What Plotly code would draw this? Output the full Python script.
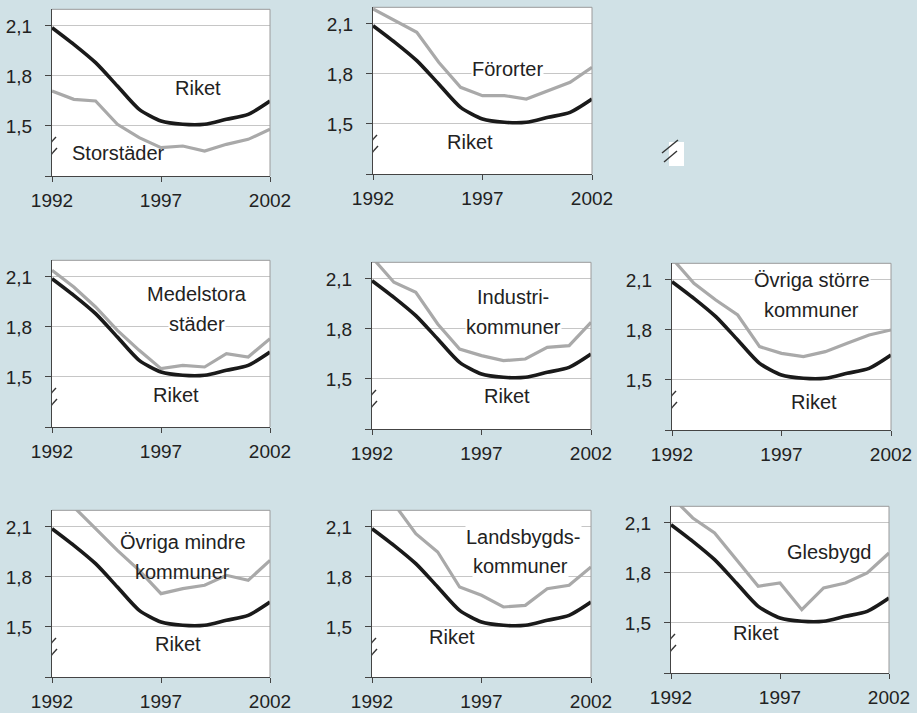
import plotly.graph_objects as go

# total fertility rate, 1992-2002
years = list(range(1992, 2003))
riket = [2.09, 1.99, 1.88, 1.74, 1.60, 1.53, 1.51, 1.51, 1.54, 1.57, 1.65]
storstader = [1.71, 1.66, 1.65, 1.51, 1.43, 1.37, 1.38, 1.35, 1.39, 1.42, 1.48]
fororter = [2.19, 2.12, 2.05, 1.87, 1.72, 1.67, 1.67, 1.65, 1.70, 1.75, 1.84]
medelstora = [2.14, 2.04, 1.92, 1.78, 1.66, 1.55, 1.57, 1.56, 1.64, 1.62, 1.73]
industri = [2.23, 2.08, 2.02, 1.83, 1.68, 1.64, 1.61, 1.62, 1.69, 1.70, 1.84]
ovriga_storre = [2.23, 2.08, 1.98, 1.89, 1.70, 1.66, 1.64, 1.67, 1.72, 1.77, 1.80]
ovriga_mindre = [2.36, 2.22, 2.09, 1.96, 1.84, 1.70, 1.73, 1.75, 1.81, 1.78, 1.90]
landsbygd = [2.45, 2.24, 2.06, 1.95, 1.74, 1.69, 1.62, 1.63, 1.73, 1.75, 1.86]
glesbygd = [2.26, 2.13, 2.04, 1.88, 1.72, 1.74, 1.58, 1.71, 1.74, 1.80, 1.92]

x_ticks = [1992, 1997, 2002]
y_ticks = [1.2, 1.5, 1.8, 2.1]
y_ticktext = ["", "1,5", "1,8", "2,1"]

W, H = 917, 713
BG = "#d0e1e6"
FONT = "Liberation Sans, Arial, sans-serif"


def px(x):
    return x / W


def py(y):
    return 1 - y / H


# gray series, left px, right px, y px of the 2,1 gridline, labels (text, x, y, white box)
panels = [
    (storstader, 52, 270, 26, [("Riket", 1998.7, 1.73, False),
                               ("Storstäder", 1995.07, 1.34, False)]),
    (fororter, 373, 592, 24, [("Förorter", 1998.12, 1.83, True),
                              ("Riket", 1996.43, 1.39, False)]),
    (medelstora, 52, 270, 277, [("Medelstora", 1998.65, 2.0, True),
                                ("städer", 1998.65, 1.82, True),
                                ("Riket", 1997.69, 1.39, False)]),
    (industri, 372, 591, 279, [("Industri-", 1998.44, 1.99, True),
                               ("kommuner", 1998.44, 1.81, True),
                               ("Riket", 1998.16, 1.40, False)]),
    (ovriga_storre, 672, 891, 280, [("Övriga större", 1998.39, 2.10, True),
                                    ("kommuner", 1998.39, 1.92, True),
                                    ("Riket", 1998.48, 1.37, False)]),
    (ovriga_mindre, 52, 270, 527, [("Övriga mindre", 1998.0, 2.01, False),
                                   ("kommuner", 1998.0, 1.83, False),
                                   ("Riket", 1997.78, 1.40, False)]),
    (landsbygd, 372, 591, 527, [("Landsbygds-", 1998.94, 2.04, True),
                                ("kommuner", 1998.76, 1.866, True),
                                ("Riket", 1995.65, 1.44, False)]),
    (glesbygd, 671, 889, 523, [("Glesbygd", 1999.25, 1.926, True),
                               ("Riket", 1995.9, 1.44, False)]),
]

fig = go.Figure()
layout = {}
shapes = []
annotations = []

for i, (gray, xl, xr, g21, labels) in enumerate(panels, start=1):
    sfx = "" if i == 1 else str(i)
    xa, ya = "x" + sfx, "y" + sfx
    top = g21 - 16.7
    bottom = g21 + 150

    fig.add_trace(go.Scatter(x=years, y=gray, mode="lines", xaxis=xa, yaxis=ya,
                             line=dict(color="#a9a9a9", width=3.2), showlegend=False))
    fig.add_trace(go.Scatter(x=years, y=riket, mode="lines", xaxis=xa, yaxis=ya,
                             line=dict(color="#1a1a1a", width=3.6, shape="spline", smoothing=0.7),
                             showlegend=False))

    layout["xaxis" + sfx] = dict(
        domain=[px(xl), px(xr)], anchor=ya, range=[1992, 2002], automargin=False,
        tickvals=x_ticks, ticks="outside", ticklen=5, tickcolor="#444",
        showline=True, linecolor="#444", linewidth=1.3, showgrid=False, zeroline=False,
        tickfont=dict(family=FONT, size=19, color="#222"), ticklabelstandoff=2,
    )
    layout["yaxis" + sfx] = dict(
        domain=[py(bottom), py(top)], anchor=xa, range=[1.2, 2.2], automargin=False,
        tickvals=y_ticks, ticktext=y_ticktext, ticks="outside", ticklen=6, tickcolor="#444",
        showline=True, linecolor="#444", linewidth=1.3, showgrid=True,
        gridcolor="#c6c6c6", gridwidth=1, zeroline=False,
        tickfont=dict(family=FONT, size=19, color="#222"), ticklabelstandoff=9,
    )

    # top and right border of the plot box
    shapes.append(dict(type="line", xref=xa + " domain", yref=ya + " domain",
                       x0=0, x1=1, y0=1, y1=1, line=dict(color="#9a9a9a", width=1)))
    shapes.append(dict(type="line", xref=xa + " domain", yref=ya + " domain",
                       x0=1, x1=1, y0=0, y1=1, line=dict(color="#9a9a9a", width=1)))

    # axis break mark on the y axis
    shapes.append(dict(type="rect", xref=xa, yref=ya, xsizemode="pixel", ysizemode="pixel",
                       xanchor=1992, yanchor=1.5, x0=-5, x1=2, y0=-37, y1=-3,
                       fillcolor="white", line=dict(width=0)))
    for (a, b, c, d) in [(-9, -25, 4, -11), (-6, -34, 5, -22)]:
        shapes.append(dict(type="line", xref=xa, yref=ya, xsizemode="pixel", ysizemode="pixel",
                           xanchor=1992, yanchor=1.5, x0=a, y0=b, x1=c, y1=d,
                           line=dict(color="#333", width=1.4)))

    for text, lx, ly, box in labels:
        annotations.append(dict(
            text=text, x=lx, y=ly, xref=xa, yref=ya, showarrow=False,
            font=dict(family=FONT, size=20, color="#222"),
            bgcolor="white" if box else None, borderpad=0,
        ))

# stray break mark where the ninth panel would be
shapes.append(dict(type="rect", xref="paper", yref="paper",
                   x0=px(669), x1=px(684), y0=py(166), y1=py(142),
                   fillcolor="white", line=dict(width=0)))
for (a, b, c, d) in [(662, 153, 678, 140), (664, 162, 677, 151)]:
    shapes.append(dict(type="line", xref="paper", yref="paper",
                       x0=px(a), y0=py(b), x1=px(c), y1=py(d),
                       line=dict(color="#333", width=1.4)))

fig.update_layout(
    **layout,
    shapes=shapes,
    annotations=annotations,
    width=W, height=H,
    margin=dict(l=0, r=0, t=0, b=0, autoexpand=False),
    paper_bgcolor=BG,
    plot_bgcolor="white",
    showlegend=False,
    font=dict(family=FONT, color="#222"),
)

fig.write_html("out.html", config={"displayModeBar": False},
               post_script="document.body.style.margin = '0';")
